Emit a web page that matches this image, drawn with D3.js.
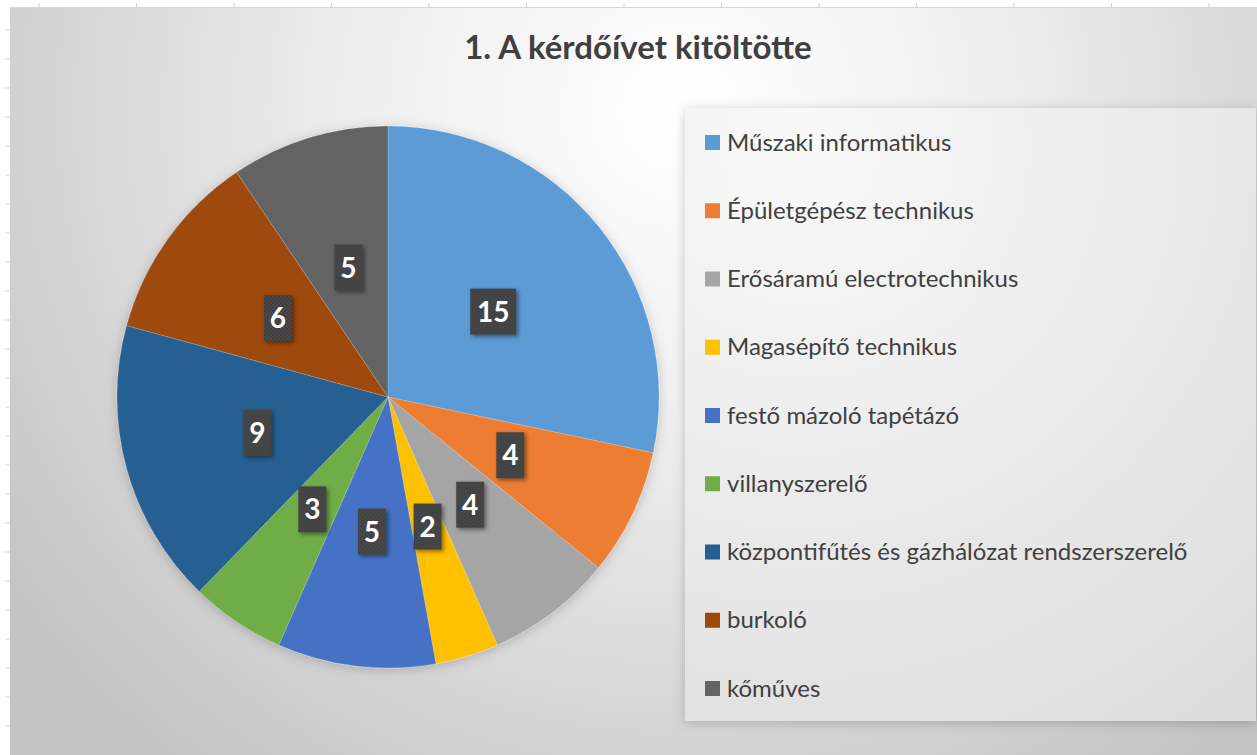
<!DOCTYPE html>
<html>
<head>
<meta charset="utf-8">
<script src="https://cdn.jsdelivr.net/npm/d3@7"></script>
<style>
  body { margin: 0; background: #fff; }
  svg { display: block; font-family: Lato, "Open Sans", sans-serif; }
</style>
</head>
<body>
<div class="chartBox"></div>
<script>
// chart data
var title = '1. A kérdőívet kitöltötte';
var categories = ['Műszaki informatikus', 'Épületgépész technikus', 'Erősáramú electrotechnikus',
  'Magasépítő technikus', 'festő mázoló tapétázó', 'villanyszerelő',
  'központifűtés és gázhálózat rendszerszerelő', 'burkoló', 'kőműves'];
var values = [15, 4, 4, 2, 5, 3, 9, 6, 5];
var colors = ['#5B9BD5', '#ED7D31', '#A5A5A5', '#FFC000', '#4472C4', '#70AD47', '#255E91', '#9E480E', '#636363'];

var w = 1257, h = 755;
var canvas = d3.select('.chartBox')
  .append('svg')
  .attr('width', w)
  .attr('height', h);

var defs = canvas.append('defs');

var bg = defs.append('radialGradient')
  .attr('id', 'bg')
  .attr('gradientUnits', 'userSpaceOnUse')
  .attr('cx', 680).attr('cy', 110).attr('r', 820);
bg.append('stop').attr('offset', '0%').attr('stop-color', '#ffffff');
bg.append('stop').attr('offset', '40%').attr('stop-color', '#eeeeee');
bg.append('stop').attr('offset', '100%').attr('stop-color', '#c4c4c4');

var lg = defs.append('radialGradient')
  .attr('id', 'lg')
  .attr('gradientUnits', 'userSpaceOnUse')
  .attr('cx', 800).attr('cy', 150).attr('r', 700);
lg.append('stop').attr('offset', '0%').attr('stop-color', '#f9f9f9');
lg.append('stop').attr('offset', '100%').attr('stop-color', '#dddddd');

var shadow = defs.append('filter').attr('id', 'shadow')
  .attr('x', '-20%').attr('y', '-20%').attr('width', '140%').attr('height', '140%');
shadow.append('feDropShadow')
  .attr('dx', 0).attr('dy', 2).attr('stdDeviation', 6)
  .attr('flood-color', '#000').attr('flood-opacity', 0.2);

var boxShadow = defs.append('filter').attr('id', 'boxShadow')
  .attr('x', '-30%').attr('y', '-30%').attr('width', '170%').attr('height', '170%');
boxShadow.append('feDropShadow')
  .attr('dx', 2).attr('dy', 2).attr('stdDeviation', 2)
  .attr('flood-color', '#000').attr('flood-opacity', 0.45);

var dots = defs.append('pattern').attr('id', 'dots')
  .attr('patternUnits', 'userSpaceOnUse').attr('width', 4).attr('height', 4);
dots.append('rect').attr('width', 4).attr('height', 4).attr('fill', '#3f3f3f');
dots.append('circle').attr('cx', 1).attr('cy', 1).attr('r', 0.8).attr('fill', '#555555');
dots.append('circle').attr('cx', 3).attr('cy', 3).attr('r', 0.8).attr('fill', '#555555');

// spreadsheet edge ticks
canvas.selectAll('.tt')
  .data(d3.range(39, 1257, 97.5))
  .enter().append('line')
  .attr('x1', function(d){ return d; }).attr('x2', function(d){ return d; })
  .attr('y1', 3).attr('y2', 7)
  .attr('stroke', '#d0d0d0');
canvas.selectAll('.lt')
  .data(d3.range(30, 755, 29))
  .enter().append('line')
  .attr('x1', 5).attr('x2', 10)
  .attr('y1', function(d){ return d; }).attr('y2', function(d){ return d; })
  .attr('stroke', '#d8d8d8');

// chart area
canvas.append('rect')
  .attr('x', 10).attr('y', 7)
  .attr('width', w - 10).attr('height', h - 7)
  .attr('fill', 'url(#bg)');
canvas.append('line')
  .attr('x1', 10).attr('x2', w).attr('y1', 7.5).attr('y2', 7.5)
  .attr('stroke', '#d6d6d6');

canvas.append('text')
  .attr('x', 638).attr('y', 59)
  .attr('text-anchor', 'middle')
  .attr('font-size', 33)
  .attr('font-weight', 'bold')
  .attr('fill', '#404040')
  .text(title);

// pie
var cx = 388, cy = 397, r = 271;
var pie = d3.pie().sort(null).value(function(d){ return d; });
var arcs = pie(values);
var arc = d3.arc().innerRadius(0).outerRadius(r);
var labelArc = d3.arc().innerRadius(r * 0.5).outerRadius(r * 0.5);

var g = canvas.append('g').attr('transform', 'translate(' + cx + ',' + cy + ')');
g.append('g').attr('filter', 'url(#shadow)')
  .selectAll('path')
  .data(arcs)
  .enter()
  .append('path')
  .attr('d', arc)
  .attr('fill', function(d, i){ return colors[i]; })
  .attr('stroke', 'rgba(255,255,255,0.3)')
  .attr('stroke-width', 0.6);

var labels = g.selectAll('.lbl')
  .data(arcs)
  .enter()
  .append('g')
  .attr('class', 'lbl')
  .attr('transform', function(d){
    var c = labelArc.centroid(d);
    return 'translate(' + c[0] + ',' + c[1] + ')';
  });
labels.append('rect')
  .attr('x', function(d){ return d.data >= 10 ? -23 : -14; })
  .attr('y', -23)
  .attr('width', function(d){ return d.data >= 10 ? 46 : 28; })
  .attr('height', 46)
  .attr('fill', 'url(#dots)')
  .attr('filter', 'url(#boxShadow)');
labels.append('text')
  .attr('text-anchor', 'middle')
  .attr('dy', '0.36em')
  .attr('font-size', 28)
  .attr('font-weight', 'bold')
  .attr('fill', '#fff')
  .text(function(d){ return d.data; });

// legend
var legend = canvas.append('g');
legend.append('rect')
  .attr('x', 685).attr('y', 108)
  .attr('width', w - 686).attr('height', 613)
  .attr('fill', 'url(#lg)')
  .attr('filter', 'url(#shadow)');

var ly = d3.scalePoint().domain(categories).range([142, 688]);
var items = legend.selectAll('.item')
  .data(categories)
  .enter()
  .append('g')
  .attr('transform', function(d){ return 'translate(705,' + ly(d) + ')'; });
items.append('rect')
  .attr('x', 0).attr('y', -7)
  .attr('width', 15).attr('height', 15)
  .attr('fill', function(d, i){ return colors[i]; });
items.append('text')
  .attr('x', 22).attr('dy', '0.36em')
  .attr('font-size', 24)
  .attr('fill', '#404040')
  .text(function(d){ return d; });
</script>
</body>
</html>
